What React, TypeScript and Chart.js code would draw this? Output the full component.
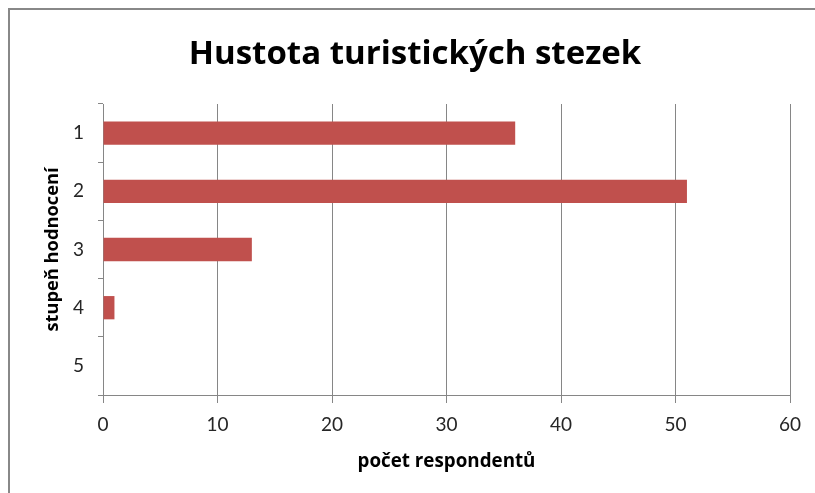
import React, { useEffect, useRef } from "react";
import { Chart, registerables } from "chart.js";

Chart.register(...registerables);

const categories = ["1", "2", "3", "4", "5"];
const respondents = [36, 51, 13, 1, 0];
const xTicks = [0, 10, 20, 30, 40, 50, 60];
const chartTitle = "Hustota turistických stezek";
const xTitle = "počet respondentů";
const yTitle = "stupeň hodnocení";

const FONT = "Lato, 'Open Sans', sans-serif";
const TITLE_FONT = "'Open Sans', 'Noto Sans', sans-serif";
const GRID = "#868686";

export default function App() {
  const ref = useRef<HTMLCanvasElement | null>(null);

  useEffect(() => {
    const canvas = ref.current;
    if (!canvas) return;
    const chart = new Chart(canvas, {
      type: "bar",
      data: {
        labels: categories,
        datasets: [
          {
            data: respondents,
            backgroundColor: "#C0504D",
            borderWidth: 0,
            categoryPercentage: 0.4,
            barPercentage: 1,
          },
        ],
      },
      options: {
        indexAxis: "y",
        animation: false,
        responsive: false,
        maintainAspectRatio: false,
        layout: { padding: { left: 30, right: 25, top: 0, bottom: 0 } },
        plugins: {
          legend: { display: false },
          tooltip: { enabled: false },
          title: {
            display: true,
            text: chartTitle,
            color: "#000",
            font: { family: TITLE_FONT, size: 33, weight: "bold" },
            padding: { top: 24.5, bottom: 29.9 },
          },
        },
        scales: {
          x: {
            min: 0,
            max: 60,
            afterFit: (s: any) => {
              s.height = 90;
            },
            afterBuildTicks: (s: any) => {
              s.ticks = xTicks.map((v) => ({ value: v }));
            },
            grid: {
              color: GRID,
              lineWidth: 1,
              tickLength: 8,
              drawTicks: true,
            },
            border: { color: GRID, width: 1 },
            ticks: {
              color: "#262626",
              font: { family: FONT, size: 19 },
              padding: 10,
              maxRotation: 0,
            },
            title: {
              display: true,
              text: xTitle,
              color: "#000",
              font: { family: TITLE_FONT, size: 18.8, weight: "bold" },
              padding: { top: 0, bottom: 12.5 },
            },
          },
          y: {
            offset: true,
            afterFit: (s: any) => {
              s.width = 63;
            },
            grid: {
              drawOnChartArea: false,
              drawTicks: true,
              tickLength: 5,
              color: GRID,
              offset: true,
            },
            border: { color: GRID, width: 1 },
            ticks: {
              color: "#262626",
              font: { family: FONT, size: 19 },
              padding: 14,
            },
            title: {
              display: true,
              text: yTitle,
              color: "#000",
              font: { family: TITLE_FONT, size: 18.3, weight: "bold" },
              padding: { top: 2, bottom: 0 },
            },
          },
        },
      },
    });
    return () => chart.destroy();
  }, []);

  return (
    <div
      style={{
        position: "fixed",
        left: 8,
        top: 8,
        width: 820,
        height: 500,
        borderLeft: "2px solid #888",
        borderTop: "2px solid #888",
        boxSizing: "border-box",
        background: "#fff",
        overflow: "hidden",
      }}
    >
      <canvas ref={ref} width={805} height={475} style={{ display: "block" }} />
    </div>
  );
}
